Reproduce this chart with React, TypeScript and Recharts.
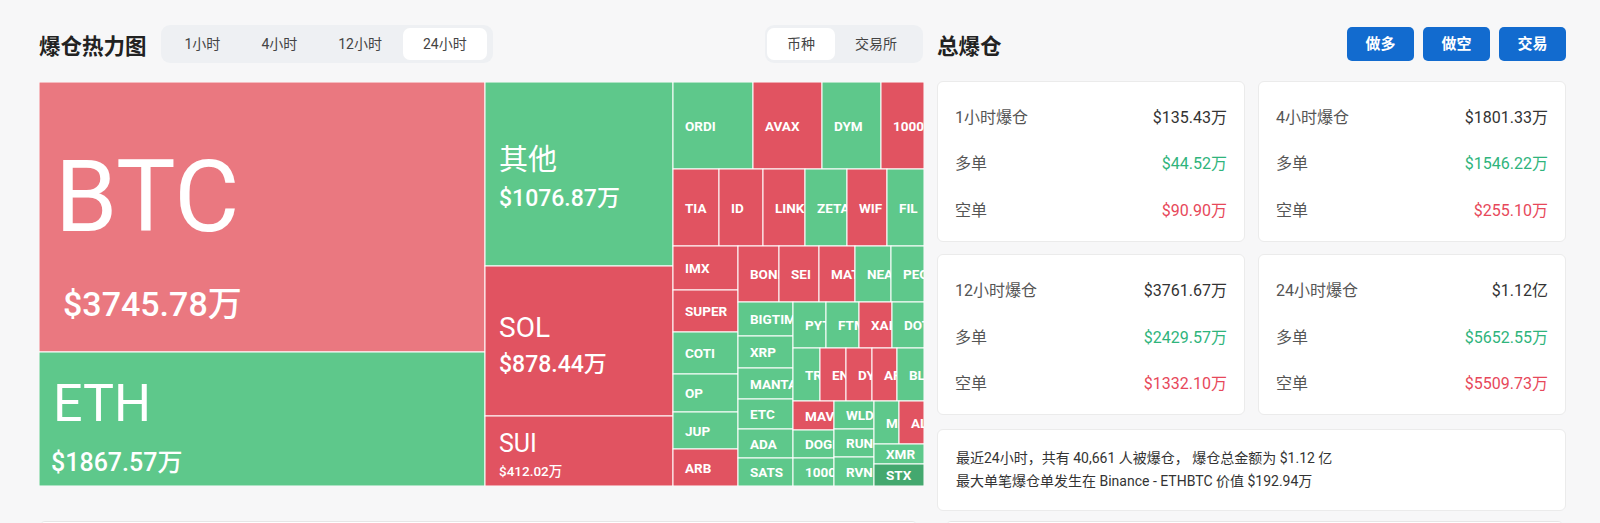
import React from "react";
import { Treemap } from "recharts";

const coins = [
  "BTC", "ETH", "其他", "SOL", "SUI",
  "ORDI", "AVAX", "DYM", "1000PEPE",
  "TIA", "ID", "LINK", "ZETA", "WIF", "FIL",
  "IMX", "SUPER", "COTI", "OP", "JUP", "ARB",
  "BONK", "SEI", "MATIC", "NEAR", "PEOPLE",
  "BIGTIME", "XRP", "MANTA", "ETC", "ADA", "SATS",
  "PYTH", "FTM", "XAI", "DOT",
  "TRB", "ENA", "DYDX", "AR", "BLUR",
  "MAVIA", "DOGE", "1000FLOKI",
  "WLD", "RUNE", "RVN",
  "MINA", "ALT",
  "XMR", "STX",
];
const amounts = [
  3745.78, 1867.57, 1076.87, 878.44, 412.02,
  217, 187, 161, 117.5,
  110, 105.7, 101, 100.5, 96.8, 90.3,
  88.2, 85, 84.6, 76.8, 75.9, 74.7,
  71.8, 68.9, 63.2, 62, 57.6,
  57.4, 54.6, 53.4, 51.7, 50, 48.8,
  47.2, 47, 46.8, 46.6,
  45, 43.6, 43.2, 41.6, 41.2,
  36.8, 35.9, 35.6,
  35.4, 35.2, 34.5,
  33.8, 32.4,
  31.6, 30.4,
];
const sides = [
  "short", "long", "long", "short", "short",
  "long", "short", "long", "short",
  "short", "short", "short", "long", "short", "long",
  "short", "short", "long", "long", "long", "short",
  "short", "short", "short", "long", "long",
  "long", "long", "long", "long", "long", "long",
  "long", "long", "short", "long",
  "long", "short", "short", "short", "long",
  "short", "long", "long",
  "long", "long", "long",
  "long", "short",
  "long", "long",
];

const periodNames = ["1小时爆仓", "4小时爆仓", "12小时爆仓", "24小时爆仓"];
const periodTotals = ["$135.43万", "$1801.33万", "$3761.67万", "$1.12亿"];
const periodLongs = ["$44.52万", "$1546.22万", "$2429.57万", "$5652.55万"];
const periodShorts = ["$90.90万", "$255.10万", "$1332.10万", "$5509.73万"];

const timeTabs = ["1小时", "4小时", "12小时", "24小时"];
const groupTabs = ["币种", "交易所"];
const actions = ["做多", "做空", "交易"];

const summaryLines = [
  "最近24小时，共有 40,661 人被爆仓， 爆仓总金额为 $1.12 亿",
  "最大单笔爆仓单发生在 Binance - ETHBTC 价值 $192.94万",
];

const data = coins.map((name, i) => ({ name, value: amounts[i], side: sides[i] }));

const FONT = 'Roboto, "Noto Sans CJK SC", sans-serif';
const SIDE_FILL: Record<string, string> = { long: "#5ec88b", short: "#e15361" };
const CELL_FILL: Record<string, string> = { BTC: "#ea7880", STX: "#44a86f" };
const GREEN_TEXT = "#2fb47c";
const RED_TEXT = "#e7485a";

// label layout for the big tiles: [size, dx, dy] for name and value
const BIG_LABELS: Record<string, { name: number[]; value: number[] }> = {
  BTC: { name: [100, 16, 149], value: [34, 24, 234] },
  ETH: { name: [52, 14, 69], value: [25, 12, 119] },
  其他: { name: [29, 14, 88], value: [23, 14, 124] },
  SOL: { name: [28, 14, 71], value: [23, 14, 106] },
  SUI: { name: [25, 14, 36], value: [13.5, 14, 60] },
};

function CoinCell(props: any) {
  const { x, y, width, height, depth, name, value, side } = props;
  if (depth !== 1 || !(width > 0) || !(height > 0)) return null;
  const fill = CELL_FILL[name] ?? SIDE_FILL[side];
  const big = BIG_LABELS[name];
  return (
    <g>
      <rect x={x} y={y} width={width} height={height} fill={fill} stroke="#fff" strokeWidth={1} />
      <svg x={x} y={y} width={width} height={height} overflow="hidden">
        {big ? (
          <>
            <text x={big.name[1]} y={big.name[2]} fill="#fff" fontSize={big.name[0]} fontFamily={FONT}>
              {name}
            </text>
            <text x={big.value[1]} y={big.value[2]} fill="#fff" fontSize={big.value[0]} fontWeight={500} fontFamily={FONT}>
              {`$${Number(value).toFixed(2)}万`}
            </text>
          </>
        ) : (
          <text x={12} y={height / 2 + 5} fill="#fff" fontSize={13.5} fontWeight={700} fontFamily={FONT}>
            {name}
          </text>
        )}
      </svg>
    </g>
  );
}

function StatCard({ i, left, top }: { i: number; left: number; top: number }) {
  const rows = [
    { label: periodNames[i], value: periodTotals[i], color: "#333" },
    { label: "多单", value: periodLongs[i], color: GREEN_TEXT },
    { label: "空单", value: periodShorts[i], color: RED_TEXT },
  ];
  return (
    <div
      style={{
        position: "absolute", left, top, width: 308, height: 161, boxSizing: "border-box",
        background: "#fff", border: "1px solid #ebebeb", borderRadius: 6,
      }}
    >
      {rows.map((r, k) => (
        <div
          key={k}
          style={{
            position: "absolute", left: 17, right: 17, top: 28 + k * 46.5, height: 16, lineHeight: "16px",
            fontSize: 16, display: "flex", justifyContent: "space-between",
          }}
        >
          <span style={{ color: "#555" }}>{r.label}</span>
          <span style={{ color: r.color }}>{r.value}</span>
        </div>
      ))}
    </div>
  );
}

export default function App() {
  return (
    <div
      style={{
        position: "absolute", left: 0, top: 0, width: 1600, height: 523, overflow: "hidden",
        background: "#f7f7f8", fontFamily: FONT, color: "#222",
      }}
    >
      <div style={{ position: "absolute", left: 39, top: 33, fontSize: 21.5, fontWeight: 700, lineHeight: "28px" }}>
        爆仓热力图
      </div>
      <div
        style={{
          position: "absolute", left: 161, top: 24.5, height: 38.5, width: 332, background: "#eef0f3",
          borderRadius: 9, display: "flex", alignItems: "center", padding: "0 3px", boxSizing: "border-box",
        }}
      >
        {timeTabs.map((t, k) => (
          <div
            key={t}
            style={{
              padding: "0 20.5px", height: 32, lineHeight: "32px", fontSize: 14, color: "#444",
              borderRadius: 7, background: k === timeTabs.length - 1 ? "#fff" : "transparent",
            }}
          >
            {t}
          </div>
        ))}
      </div>
      <div
        style={{
          position: "absolute", left: 765, top: 24.5, height: 38.5, width: 158, background: "#eef0f3",
          borderRadius: 9, display: "flex", alignItems: "center", padding: "0 2px", boxSizing: "border-box",
        }}
      >
        {groupTabs.map((t, k) => (
          <div
            key={t}
            style={{
              padding: "0 20px", height: 32, lineHeight: "32px", fontSize: 14, color: "#444",
              borderRadius: 7, background: k === 0 ? "#fff" : "transparent",
            }}
          >
            {t}
          </div>
        ))}
      </div>

      <div style={{ position: "absolute", left: 39, top: 82 }}>
        <Treemap
          width={885}
          height={404}
          data={data}
          dataKey="value"
          nameKey="name"
          isAnimationActive={false}
          content={CoinCell as any}
        />
      </div>

      <div style={{ position: "absolute", left: 937, top: 33, fontSize: 21.5, fontWeight: 700, lineHeight: "28px" }}>
        总爆仓
      </div>
      {actions.map((a, k) => (
        <div
          key={a}
          style={{
            position: "absolute", left: 1347 + k * 76, top: 26.5, width: 67, height: 34.5, lineHeight: "34.5px",
            textAlign: "center", background: "#126bcf", color: "#fff", fontWeight: 700, fontSize: 15, borderRadius: 5,
          }}
        >
          {a}
        </div>
      ))}

      <StatCard i={0} left={937} top={80.5} />
      <StatCard i={1} left={1258} top={80.5} />
      <StatCard i={2} left={937} top={254} />
      <StatCard i={3} left={1258} top={254} />

      <div
        style={{
          position: "absolute", left: 937, top: 428.5, width: 629, height: 82, boxSizing: "border-box",
          background: "#fff", border: "1px solid #ebebeb", borderRadius: 6, padding: "17px 0 0 18px",
          fontSize: 14, lineHeight: "23px", color: "#333",
        }}
      >
        {summaryLines.map((l) => (
          <div key={l}>{l}</div>
        ))}
      </div>

      <div style={{ position: "absolute", left: 41, top: 521, width: 875, height: 10, background: "#fff", borderTop: "1px solid #e6e6e6", borderRadius: 4 }} />
      <div style={{ position: "absolute", left: 947, top: 521, width: 615, height: 10, background: "#fff", borderTop: "1px solid #e6e6e6", borderRadius: 4 }} />
    </div>
  );
}
